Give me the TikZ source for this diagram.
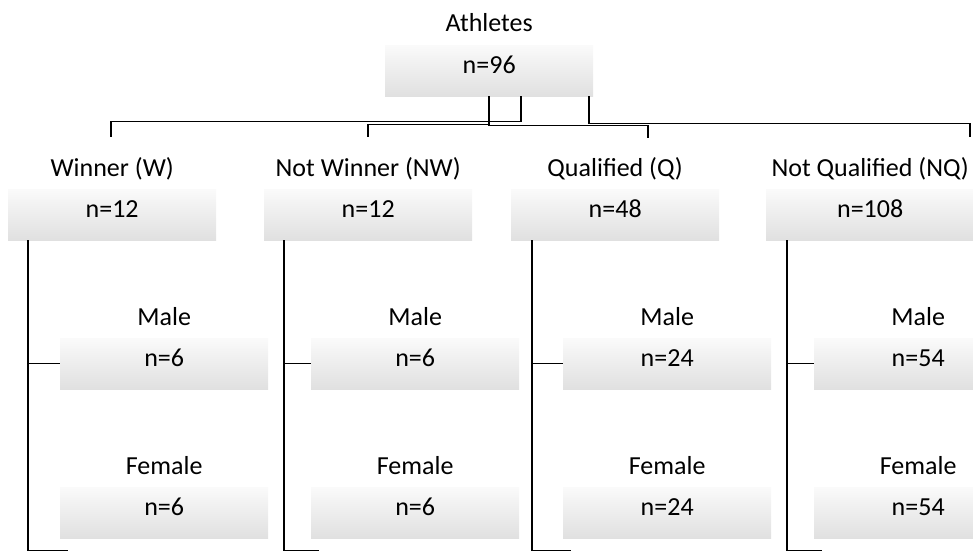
\documentclass[tikz,border=0pt]{standalone}
\usepackage{fontspec}
\setmainfont{Carlito}
\usetikzlibrary{calc}
\definecolor{boxtop}{RGB}{250,250,250}
\definecolor{boxbot}{RGB}{224,224,224}
\begin{document}
\begin{tikzpicture}[x=1pt,y=-1pt,
  catbox/.style={anchor=north west, minimum width=208pt, minimum height=51pt,
    inner sep=0pt, top color=boxtop, bottom color=boxbot, draw=none},
  txt/.style={anchor=base, inner sep=0pt, font=\fontsize{26}{30}\selectfont},
  conn/.style={draw=black, line width=1.1pt}]
\useasboundingbox (0,0) rectangle (973,551);
\clip (0,0) rectangle (973,551);
% boxes
\node[catbox] (top) at (385,45) {};
\node[catbox] (w) at (8,189) {};
\node[catbox] (nw) at (264,189) {};
\node[catbox] (q) at (511,189) {};
\node[catbox] (nq) at (766,189) {};
\node[catbox] (wm) at (60,338) {};
\node[catbox] (nwm) at (311,338) {};
\node[catbox] (qm) at (563,338) {};
\node[catbox] (nqm) at (814,338) {};
\node[catbox] (wf) at (60,487) {};
\node[catbox] (nwf) at (311,487) {};
\node[catbox] (qf) at (563,487) {};
\node[catbox] (nqf) at (814,487) {};
% texts
\foreach \b/\l/\n in {top/Athletes/96, w/Winner (W)/12, nw/Not Winner (NW)/12,
  q/Qualified (Q)/48, nq/Not Qualified (NQ)/108,
  wm/Male/6, nwm/Male/6, qm/Male/24, nqm/Male/54,
  wf/Female/6, nwf/Female/6, qf/Female/24, nqf/Female/54}{
  \node[txt] (\b-lab) at ($(\b.north)+(0,-13)$) {\l};
  \node[txt] (\b-num) at ($(\b.north)+(0,28)$) {n=\n};
}
% top-level connectors
\coordinate (ew) at (111,137);
\coordinate (enw) at (368,137);
\coordinate (eq) at (648,138);
\coordinate (enq) at (970,137);
\draw[conn] ($(top.south west)+(136,0)$) -- ++(0,25) -| (ew);
\draw[conn] ($(top.south west)+(104,0)$) -- ++(0,28) -| (enw);
\draw[conn] ($(top.south west)+(104,0)$) -- ++(0,29.5) -| (eq);
\draw[conn] ($(top.south west)+(204,0)$) -- ++(0,27) -| (enq);
% second-level connectors
\foreach \p/\o in {w/20, nw/20, q/21, nq/21}{
  \draw[conn] ($(\p.south west)+(\o,0)$) |- (\p m.west);
  \draw[conn] ($(\p.south west)+(\o,0)$) |- ($(\p f.south west)+(8,12)$);
}
\end{tikzpicture}
\end{document}
